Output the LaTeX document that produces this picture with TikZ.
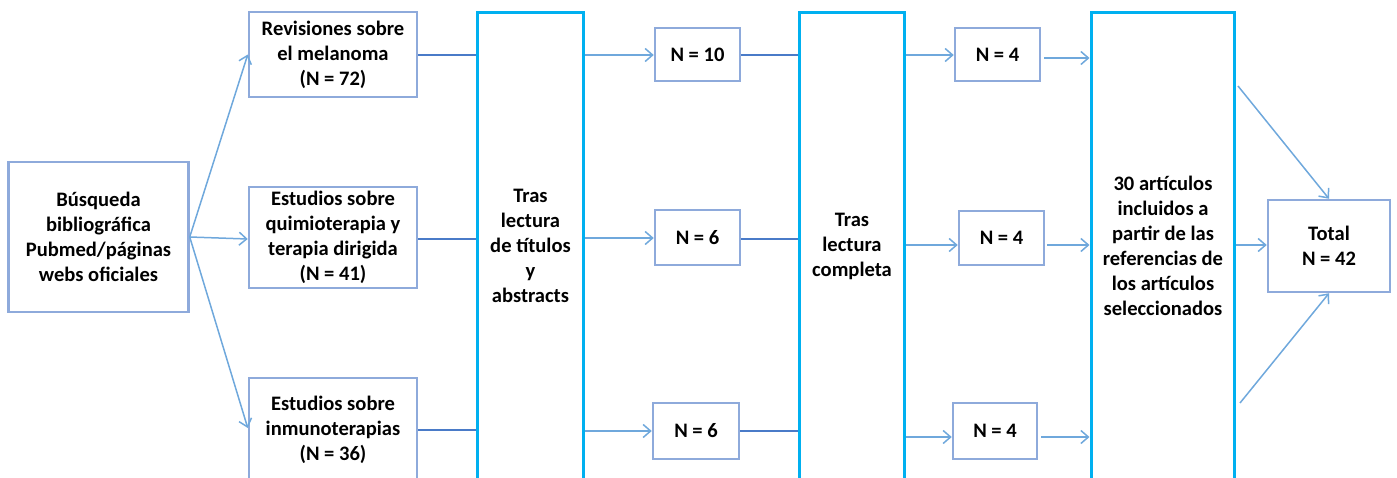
\documentclass[tikz,border=0pt]{standalone}
\usepackage{fontspec}
\setmainfont{Carlito}
\usetikzlibrary{arrows.meta}
\definecolor{boxline}{HTML}{8EAADB}
\definecolor{tallline}{HTML}{00B0F0}
\definecolor{arrowline}{HTML}{6FA8DC}
\definecolor{plainline}{HTML}{4A7BC8}
\tikzset{
  smallbox/.style={draw=boxline, line width=0.05cm, fill=white, align=center,
    inner sep=0pt, font=\fontsize{11.7}{14.2}\selectfont\bfseries},
  tallbox/.style={draw=tallline, line width=0.06cm, align=center,
    inner sep=0pt, minimum height=9.36cm,
    font=\fontsize{11.7}{14.2}\selectfont\bfseries},
  flow/.style={draw=arrowline, line width=0.03cm,
    -{Straight Barb[length=0.15cm,width=0.26cm]}},
  joint/.style={draw=plainline, line width=0.03cm}
}
\begin{document}
\begin{tikzpicture}[x=0.02cm, y=-0.02cm]
\useasboundingbox (0,0) rectangle (1397,477);
\clip (0,0) rectangle (1397,477);

% search source
\node[smallbox, minimum width=3.6cm, minimum height=3.0cm] (bus) at (98.5,237)
  {Búsqueda\\bibliográfica\\Pubmed/páginas\\webs oficiales};

% three topic groups
\node[smallbox, minimum width=3.36cm, minimum height=1.7cm] (rev) at (333,54.5)
  {Revisiones sobre\\el melanoma\\(N = 72)};
\node[smallbox, minimum width=3.36cm, minimum height=2.02cm] (qui) at (333,237.5)
  {Estudios sobre\\quimioterapia y\\terapia dirigida\\(N = 41)};
\node[smallbox, minimum width=3.36cm, minimum height=2.08cm] (inm) at (333,430)
  {Estudios sobre\\inmunoterapias\\(N = 36)};

% screening stages
\node[tallbox, minimum width=2.14cm] (t1) at (530.5,246)
  {Tras\\lectura\\de títulos\\y\\abstracts};
\node[tallbox, minimum width=2.12cm] (t2) at (852,246)
  {Tras\\lectura\\completa};
\node[tallbox, minimum width=2.88cm] (t3) at (1163,246)
  {30 artículos\\incluidos a\\partir de las\\referencias de\\los artículos\\seleccionados};

% counts after title/abstract screening
\node[smallbox, minimum width=1.7cm, minimum height=1.06cm] (n10) at (697.5,54.5) {N = 10};
\node[smallbox, minimum width=1.7cm, minimum height=1.1cm] (n6a) at (697.5,237.5) {N = 6};
\node[smallbox, minimum width=1.72cm, minimum height=1.12cm] (n6b) at (696,431) {N = 6};

% counts after full reading
\node[smallbox, minimum width=1.7cm, minimum height=1.06cm] (n4a) at (997.5,54.5) {N = 4};
\node[smallbox, minimum width=1.7cm, minimum height=1.08cm] (n4b) at (1001.5,238) {N = 4};
\node[smallbox, minimum width=1.68cm, minimum height=1.12cm] (n4c) at (995,431) {N = 4};

% final total
\node[smallbox, minimum width=2.44cm, minimum height=1.84cm] (tot) at (1329,246)
  {Total\\N = 42};

% search split
\draw[flow] (bus.east) -- (rev.west);
\draw[flow] (bus.east) -- (qui.west |- 0,239);
\draw[flow] (bus.east) -- (inm.west |- 0,428);

% groups into first screening
\draw[joint] (rev.east |- 0,55) -- (t1.west |- 0,55);
\draw[joint] (qui.east |- 0,239) -- (t1.west |- 0,239);
\draw[joint] (inm.east |- 0,430) -- (t1.west |- 0,430);

% first screening results
\draw[flow] (t1.east |- 0,55) -- (n10.west |- 0,55);
\draw[flow] (t1.east |- 0,238) -- (n6a.west |- 0,238);
\draw[flow] (t1.east |- 0,431) -- (n6b.west |- 0,431);

% results into full reading
\draw[joint] (n10.east |- 0,55) -- (t2.west |- 0,55);
\draw[joint] (n6a.east |- 0,239) -- (t2.west |- 0,239);
\draw[joint] (n6b.east |- 0,431) -- (t2.west |- 0,431);

% full reading results
\draw[flow] (t2.east |- 0,55) -- (n4a.west |- 0,55);
\draw[flow] (t2.east |- 0,245) -- (n4b.west |- 0,245);
\draw[flow] (t2.east |- 0,437) -- (n4c.west |- 0,437);

% into reference search
\draw[flow] ([xshift=0.06cm]n4a.east |- 0,58) -- (t3.west |- 0,58);
\draw[flow] ([xshift=0.04cm]n4b.east |- 0,245) -- (t3.west |- 0,245);
\draw[flow] ([xshift=0.06cm]n4c.east |- 0,437) -- (t3.west |- 0,437);

% into total
\coordinate (c1) at (1238,86);
\coordinate (c2) at (1240,403);
\draw[flow] (c1) -- (tot.north);
\draw[flow] (t3.east |- 0,245) -- (tot.west |- 0,245);
\draw[flow] (c2) -- (tot.south);
\end{tikzpicture}
\end{document}
